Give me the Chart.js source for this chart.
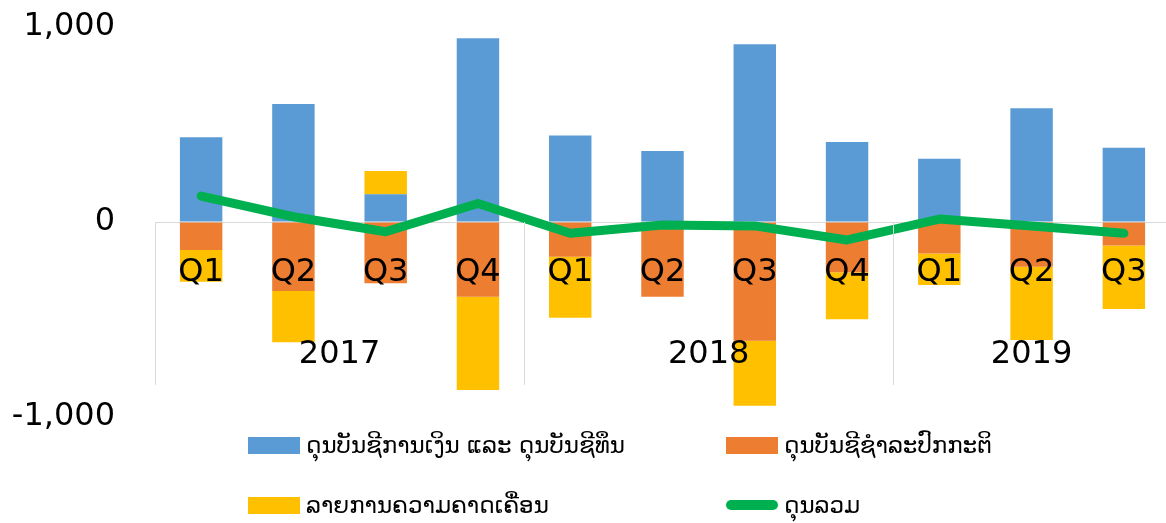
<!DOCTYPE html>
<html>
<head>
<meta charset="utf-8">
<script src="https://cdn.jsdelivr.net/npm/chart.js@4.4.1/dist/chart.umd.min.js"></script>
<style>
  html, body { margin: 0; padding: 0; background: #fff; overflow: hidden; }
  #wrap { position: relative; width: 1166px; height: 523px; overflow: hidden; }
  #chart { position: absolute; left: 0; top: 0; }
  .legend-item { position: absolute; display: flex; align-items: center; height: 30px;
                 font-family: "DejaVu Sans", sans-serif; font-size: 23px; color: #000; white-space: nowrap; }
  .swatch { width: 52px; height: 17px; margin-right: 6px; }
  .swatch.line { height: 10px; border-radius: 5px; }
</style>
</head>
<body>
<div id="wrap">
  <canvas id="chart" width="1170" height="523"></canvas>
  <div id="legend"></div>
</div>
<script>
// Quý và năm
const quarters = ["Q1", "Q2", "Q3", "Q4", "Q1", "Q2", "Q3", "Q4", "Q1", "Q2", "Q3"];
const years = ["2017", "2018", "2019"];
const quartersPerYear = [4, 4, 3];

// Các chuỗi số liệu
const financialCapital = [434, 605, 142, 942, 444, 364, 911, 410, 325, 583, 381];
const currentAccount = [-144, -354, -314, -383, -178, -383, -609, -258, -161, -229, -121];
const errorsOmissions = [-162, -263, 119, -479, -313, 0, -333, -241, -162, -376, -325];
const overallBalance = [133, 27, -50, 95, -58, -15, -20, -92, 15, -20, -58];

// Nhãn trục Y
const yTicks = [-1000, 0, 1000];

// Chú thích
const seriesLabels = [
    "ດຸນບັນຊີການເງິນ ແລະ ດຸນບັນຊີທຶນ",
    "ດຸນບັນຊີຊຳລະປົກກະຕິ",
    "ລາຍການຄວາມຄາດເຄື່ອນ",
    "ດຸນລວມ",
];
const seriesColors = ["#5b9bd5", "#ed7d31", "#ffc000", "#00b050"];

// Vẽ nhãn năm và vạch phân cách nhóm
const yearGroups = {
    id: "yearGroups",
    afterDatasetsDraw(chart) {
        const { ctx, scales: { x, y } } = chart;
        const zero = y.getPixelForValue(0);
        const half = (x.getPixelForValue(1) - x.getPixelForValue(0)) / 2;
        ctx.save();
        ctx.strokeStyle = "#d9d9d9";
        ctx.lineWidth = 1;
        ctx.font = '32px "DejaVu Sans"';
        ctx.fillStyle = "#000";
        ctx.textAlign = "center";
        ctx.textBaseline = "middle";
        let start = 0;
        years.forEach((year, i) => {
            const n = quartersPerYear[i];
            const left = x.getPixelForValue(start) - half;
            const right = x.getPixelForValue(start + n - 1) + half;
            const lx = Math.round(left) + 0.5;
            ctx.beginPath();
            ctx.moveTo(lx, zero);
            ctx.lineTo(lx, 385);
            ctx.stroke();
            ctx.fillText(year, (left + right) / 2, 355);
            start += n;
        });
        ctx.restore();
    }
};

const ctx = document.getElementById("chart").getContext("2d");
const chart = new Chart(ctx, {
    type: "bar",
    data: {
        labels: quarters,
        datasets: [
            { label: seriesLabels[0], data: financialCapital, backgroundColor: seriesColors[0], order: 1 },
            { label: seriesLabels[1], data: currentAccount, backgroundColor: seriesColors[1], order: 1 },
            { label: seriesLabels[2], data: errorsOmissions, backgroundColor: seriesColors[2], order: 1 },
            {
                type: "line",
                label: seriesLabels[3],
                data: overallBalance,
                borderColor: seriesColors[3],
                backgroundColor: seriesColors[3],
                borderWidth: 9,
                pointRadius: 0,
                borderCapStyle: "round",
                borderJoinStyle: "round",
                tension: 0,
                stack: "total",
                order: 0,
            },
        ]
    },
    options: {
        responsive: false,
        animation: false,
        layout: { padding: { top: 27, bottom: 106, left: 0, right: 0 } },
        datasets: { bar: { categoryPercentage: 1, barPercentage: 0.46 } },
        plugins: { legend: { display: false }, tooltip: { enabled: false } },
        scales: {
            x: {
                stacked: true,
                position: { y: 0 },
                grid: { display: true, drawOnChartArea: false, drawTicks: true, tickLength: 31, color: "rgba(0,0,0,0)" },
                border: { display: true, color: "#d9d9d9", width: 1 },
                ticks: {
                    z: 1,
                    padding: 0,
                    color: "#000",
                    font: { family: "DejaVu Sans", size: 32 },
                    maxRotation: 0,
                    autoSkip: false,
                },
            },
            y: {
                stacked: true,
                min: -1000,
                max: 1000,
                afterBuildTicks: scale => { scale.ticks = yTicks.map(v => ({ value: v })); },
                afterFit: scale => { scale.width = 155; },
                grid: { display: true, drawOnChartArea: false, drawTicks: true, tickLength: 40, color: "rgba(0,0,0,0)" },
                border: { display: false },
                ticks: {
                    padding: 0,
                    color: "#000",
                    font: { family: "DejaVu Sans", size: 32 },
                    callback: v => v.toLocaleString("en-US"),
                },
            },
        },
    },
    plugins: [yearGroups],
});

// Chú thích dạng HTML (2 cột)
const legendPos = [[248, 430], [726, 430], [248, 490], [726, 490]];
const legendBox = document.getElementById("legend");
seriesLabels.forEach((label, i) => {
    const item = document.createElement("div");
    item.className = "legend-item";
    item.style.left = legendPos[i][0] + "px";
    item.style.top = legendPos[i][1] + "px";
    const sw = document.createElement("span");
    sw.className = i === 3 ? "swatch line" : "swatch";
    sw.style.background = seriesColors[i];
    const txt = document.createElement("span");
    txt.textContent = label;
    item.appendChild(sw);
    item.appendChild(txt);
    legendBox.appendChild(item);
});
</script>
</body>
</html>
